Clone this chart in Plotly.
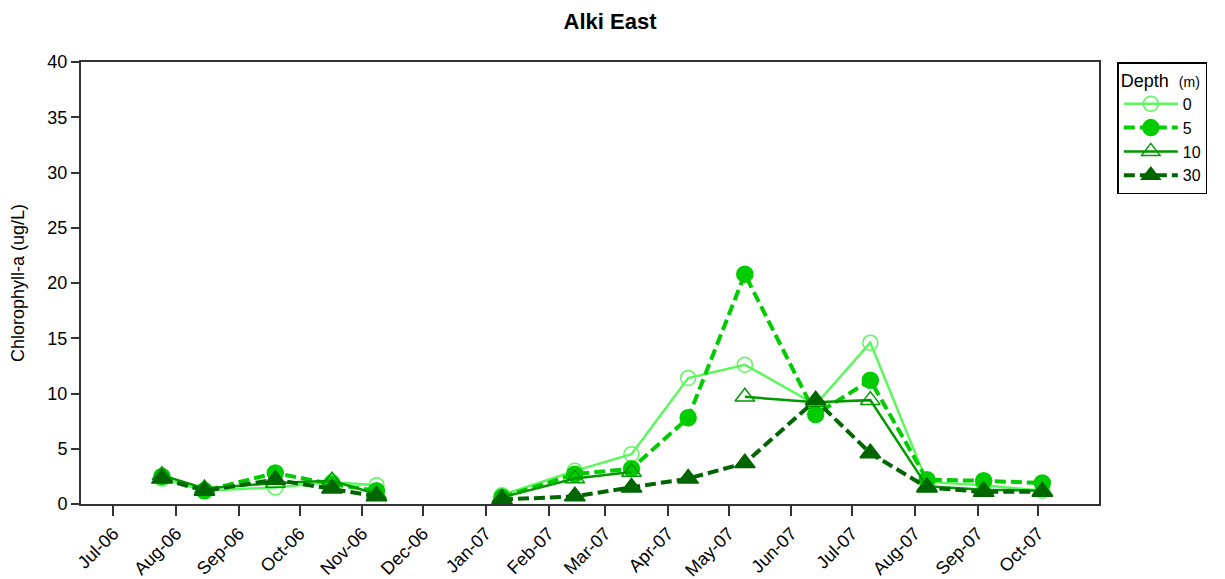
import plotly.graph_objects as go

# Sampling dates for the two survey periods
dates_2006 = ["2006-07-25", "2006-08-15", "2006-09-19", "2006-10-17", "2006-11-08"]
dates_2007 = ["2007-01-09", "2007-02-14", "2007-03-14", "2007-04-11", "2007-05-09",
              "2007-06-13", "2007-07-10", "2007-08-07", "2007-09-04", "2007-10-03"]

# Chlorophyll-a (ug/L) by depth
chl_0m_2006 = [2.3, 1.2, 1.5, 2.0, 1.7]
chl_0m_2007 = [0.8, 3.0, 4.5, 11.4, 12.6, 9.0, 14.6, 2.0, 1.7, 1.2]
chl_5m_2006 = [2.5, 1.2, 2.8, 1.8, 1.2]
chl_5m_2007 = [0.6, 2.7, 3.2, 7.8, 20.8, 8.1, 11.2, 2.2, 2.1, 1.9]
chl_10m_2006 = [2.6, 1.4, 1.9, 2.1, 0.9]
chl_10m_2007 = [0.6, 2.3, 2.9, None, 9.7, 9.2, 9.4, 1.6, 1.3, 1.2]
chl_30m_2006 = [2.3, 1.2, 2.2, 1.4, 0.7]
chl_30m_2007 = [0.4, 0.7, 1.5, 2.3, 3.7, 9.4, 4.6, 1.5, 1.1, 1.1]

depths = ["0", "5", "10", "30"]
colors = ["#5CF75C", "#00CC00", "#009900", "#006600"]
series = [
    (chl_0m_2006, chl_0m_2007),
    (chl_5m_2006, chl_5m_2007),
    (chl_10m_2006, chl_10m_2007),
    (chl_30m_2006, chl_30m_2007),
]
styles = [
    dict(dash="solid", width=2.5, symbol="circle-open", size=15),
    dict(dash="11px,5px", width=4, symbol="circle", size=16),
    dict(dash="solid", width=2.5, symbol="triangle-up-open", size=17),
    dict(dash="11px,5px", width=4, symbol="triangle-up", size=18),
]

fig = go.Figure()
for name, color, (y06, y07), st in zip(depths, colors, series, styles):
    # a None between periods breaks the line over the winter gap
    x = dates_2006 + [None] + dates_2007
    y = y06 + [None] + y07
    fig.add_trace(go.Scatter(
        x=x, y=y, name=name, mode="lines+markers", connectgaps=False,
        line=dict(color=color, width=st["width"], dash=st["dash"]),
        marker=dict(symbol=st["symbol"], size=st["size"], color=color,
                    line=dict(color=color, width=1.5)),
    ))

fig.update_layout(
    width=1225, height=579,
    margin=dict(l=81, r=126, t=62, b=75),
    paper_bgcolor="white", plot_bgcolor="white",
    font=dict(family="Liberation Sans, Arial, sans-serif", color="black"),
    title=dict(text="<b>Alki East</b>", x=0.498, xanchor="center", y=0.963, yanchor="middle",
               font=dict(size=22)),
    showlegend=True,
    legend=dict(
        x=1.018, xanchor="left", y=1.0, yanchor="top",
        bordercolor="black", borderwidth=1.5, bgcolor="white",
        font=dict(size=16), itemwidth=54,
        title=dict(text="Depth  <span style='font-size:14px'>(m)</span>", font=dict(size=18)),
        tracegroupgap=0,
    ),
    xaxis=dict(
        type="date", range=["2006-06-15", "2007-10-31"], automargin=False,
        dtick="M1", tick0="2006-07-01", tickformat="%b-%y", tickangle=-45,
        ticks="outside", ticklen=10, tickwidth=1.5, tickcolor="#333",
        showline=True, linecolor="#333", linewidth=2, mirror=True,
        showgrid=False, zeroline=False, tickfont=dict(size=18),
    ),
    yaxis=dict(
        range=[0, 40], dtick=5, automargin=False,
        ticks="outside", ticklen=8, tickwidth=1.5, tickcolor="#333",
        showline=True, linecolor="#333", linewidth=2, mirror=True,
        showgrid=False, zeroline=False, tickfont=dict(size=18),
        title=dict(text="Chlorophyll-a (ug/L)", font=dict(size=18), standoff=18),
    ),
)

fig.write_html("out.html")
